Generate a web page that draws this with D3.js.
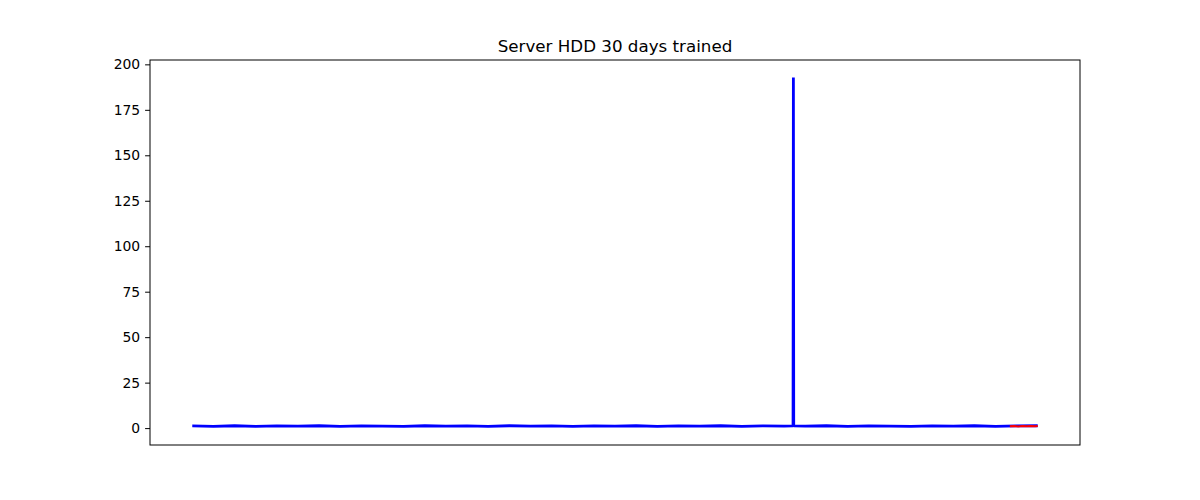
<!DOCTYPE html>
<html>
<head>
<meta charset="utf-8">
<script src="https://cdn.jsdelivr.net/npm/d3@7"></script>
<style>
  body { margin: 0; background: #fff; }
  svg { display: block; }
  text { font-family: "DejaVu Sans", sans-serif; }
</style>
</head>
<body>
<svg id="chart" width="1200" height="500"></svg>
<script>
// ---- data ----
const title = "Server HDD 30 days trained";
const yTicks = [0, 25, 50, 75, 100, 125, 150, 175, 200];

// blue series: sample index and value
const blueT = [0, 25, 50, 75, 100, 125, 150, 175, 200, 225, 250, 275, 300, 325, 350, 375, 400,
  425, 450, 475, 500, 525, 550, 575, 600, 625, 650, 675, 700, 710.6, 711, 711.4, 725, 750, 775,
  800, 825, 850, 875, 900, 925, 950, 975, 1000];
const blueV = [1.2, 1.0, 1.3, 0.9, 1.2, 1.1, 1.3, 1.0, 1.2, 1.1, 0.9, 1.3, 1.1, 1.2, 1.0, 1.3, 1.1,
  1.2, 0.9, 1.2, 1.1, 1.3, 1.0, 1.2, 1.1, 1.3, 1.0, 1.2, 1.1, 1.2, 192.8, 1.2, 1.1, 1.3, 1.0,
  1.2, 1.1, 0.9, 1.2, 1.1, 1.3, 1.0, 1.2, 1.3];

// red series: sample index and value
const redT = [967, 972, 977, 982, 987, 992, 997, 1000];
const redV = [1.0, 1.1, 0.9, 1.1, 1.0, 1.1, 1.0, 1.1];

// ---- layout ----
const svg = d3.select("#chart");
const m = { left: 150, right: 1080, top: 60, bottom: 445 };

const allT = blueT.concat(redT), allV = blueV.concat(redV);
const [tMin, tMax] = d3.extent(allT);
const [vMin, vMax] = d3.extent(allV);
const tPad = (tMax - tMin) * 0.05, vPad = (vMax - vMin) * 0.05;

const x = d3.scaleLinear().domain([tMin - tPad, tMax + tPad]).range([m.left, m.right]);
const y = d3.scaleLinear().domain([vMin - vPad - 0.6, vMax + vPad]).range([m.bottom, m.top]);

const line = d3.line().x(d => x(d[0])).y(d => y(d[1]));

svg.append("path")
  .datum(d3.zip(blueT, blueV))
  .attr("d", line)
  .attr("fill", "none")
  .attr("stroke", "#0000ff")
  .attr("stroke-width", 2.8)
  .attr("stroke-linejoin", "miter")
  .attr("stroke-miterlimit", 1);

svg.append("path")
  .datum(d3.zip(redT, redV))
  .attr("d", line)
  .attr("fill", "none")
  .attr("stroke", "#ff0000")
  .attr("stroke-width", 2)
  .attr("stroke-linejoin", "round");

// axes frame
svg.append("rect")
  .attr("x", m.left).attr("y", m.top)
  .attr("width", m.right - m.left).attr("height", m.bottom - m.top)
  .attr("fill", "none").attr("stroke", "#000").attr("stroke-width", 1);

// y axis
const yAxis = d3.axisLeft(y).tickValues(yTicks).tickSize(4.9).tickPadding(4.9).tickFormat(d3.format("d"));
const gy = svg.append("g").attr("transform", `translate(${m.left},0)`).call(yAxis);
gy.select(".domain").remove();
gy.selectAll("text").attr("font-size", "13.9px").attr("fill", "#000")
  .style("font-family", "'DejaVu Sans', sans-serif");
gy.selectAll("line").attr("stroke", "#000");

// title
svg.append("text")
  .attr("x", (m.left + m.right) / 2).attr("y", m.top - 8.5)
  .attr("text-anchor", "middle")
  .attr("font-size", "16.7px")
  .attr("fill", "#000")
  .text(title);
</script>
</body>
</html>
